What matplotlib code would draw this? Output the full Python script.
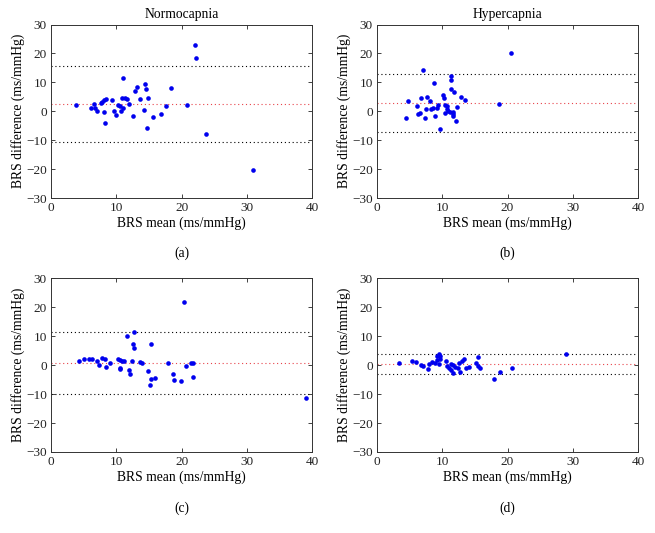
import numpy as np
import matplotlib
matplotlib.use('Agg')
import matplotlib.pyplot as plt

plt.rcParams['font.family'] = ['Liberation Serif', 'DejaVu Serif']

# (a) Normocapnia, first method pair
a_mean = [3.85, 6.15, 6.5, 6.8, 7.0, 7.6, 7.85, 8.1, 8.35, 8.1, 8.2, 9.3, 9.7, 9.9,
          10.3, 10.5, 10.7, 10.9, 11.0, 11.0, 11.4, 11.7, 11.9, 12.6, 12.9, 13.1,
          13.6, 14.2, 14.4, 14.6, 14.7, 14.9, 15.6, 16.8, 17.6, 18.4, 20.9, 22.0,
          22.2, 23.7, 31.0]
a_diff = [2.2, 1.0, 2.5, 1.0, 0.2, 2.9, 3.3, 3.9, 4.1, -0.1, -4.1, 4.0, 0.1, -1.4,
          2.2, 1.7, 0.2, 4.6, 11.5, 1.0, 4.6, 4.3, 2.4, -1.5, 6.9, 8.5,
          4.1, 0.5, 9.4, 7.7, -5.7, 4.6, -2.0, -1.1, 1.7, 7.9, 2.3, 23.0,
          18.5, -7.8, -20.3]
a_bias, a_loa = 2.6, 13.2

# (b) Hypercapnia, first method pair
b_mean = [4.5, 4.8, 6.1, 6.3, 6.6, 6.75, 7.0, 7.4, 7.5, 7.7, 8.1, 8.2, 8.6, 8.8,
          8.9, 9.2, 9.3, 9.7, 10.05, 10.25, 10.35, 10.45, 10.7, 10.7, 10.9, 11.2,
          11.3, 11.3, 11.4, 11.6, 11.7, 11.8, 11.7, 12.1, 12.3, 12.8, 13.5, 18.7,
          20.6]
b_diff = [-2.3, 3.4, 1.7, -1.1, -0.7, 4.6, 14.4, -2.4, 0.7, 5.1, 3.6, 0.9, 1.1, 9.8,
          -1.6, 1.3, 2.3, -6.2, 5.7, 4.7, -0.7, 2.2, 1.7, 0.9, 0.2, -0.1,
          7.7, 10.7, 12.1, -0.3, -1.1, 6.6, -1.6, -3.3, 1.5, 5.1, 3.8, 2.6,
          20.3]
b_bias, b_loa = 2.85, 10.05

# (c) Normocapnia, second method pair
c_mean = [4.25, 5.1, 5.8, 6.2, 7.1, 7.3, 7.8, 8.2, 8.4, 9.0, 10.2, 10.5, 10.55, 10.6,
          10.8, 11.1, 11.6, 12.0, 12.1, 12.4, 12.5, 12.7, 12.75, 13.7, 13.9, 14.8,
          15.1, 15.3, 15.3, 15.9, 17.9, 18.7, 18.9, 19.95, 20.4, 20.65, 21.5, 21.8,
          21.7, 39.1]
c_diff = [1.5, 2.2, 2.0, 2.0, 1.4, 0.2, 2.5, 2.0, -0.6, 0.9, 2.2, 1.7, -0.9, -1.4,
          1.6, 1.6, 10.2, -1.5, -3.0, 1.4, 7.3, 11.5, 5.9, 1.2, 0.9, -2.1,
          -6.7, 7.4, -4.7, -4.4, 0.9, -3.0, -5.1, -5.3, 21.9, -0.2, 0.8, 0.9,
          -4.2, -11.5]
c_bias, c_loa = 0.85, 10.65

# (d) Hypercapnia, second method pair
d_mean = [3.3, 5.3, 5.95, 6.7, 7.0, 7.85, 8.0, 8.35, 8.85, 9.25, 9.25, 9.45, 9.6, 9.5,
          9.6, 10.5, 10.8, 11.1, 11.35, 11.35, 11.65, 11.7, 12.0, 12.35, 12.6, 12.7,
          13.05, 13.4, 13.7, 14.1, 15.2, 15.5, 15.45, 15.8, 17.9, 18.9, 20.7, 29.0]
d_diff = [0.8, 1.6, 1.0, 0.0, -0.2, -1.2, 0.3, 1.0, 0.9, 1.7, 3.2, 3.8, 3.1, 0.3,
          2.1, 1.4, -0.1, -0.8, 0.6, -1.7, -2.8, 0.2, -0.5, -1.0, 0.7, -2.2,
          1.3, 2.2, -1.0, -0.6, 0.9, 2.8, -0.2, -0.9, -4.7, -2.4, -1.0, 3.8]
d_bias, d_loa = 0.3, 3.45

panels = [
    (a_mean, a_diff, a_bias, a_loa, '(a)', 'Normocapnia'),
    (b_mean, b_diff, b_bias, b_loa, '(b)', 'Hypercapnia'),
    (c_mean, c_diff, c_bias, c_loa, '(c)', None),
    (d_mean, d_diff, d_bias, d_loa, '(d)', None),
]

fig = plt.figure(figsize=(6.55, 5.33), dpi=100)
lefts = [0.078, 0.5756, 0.078, 0.5756]
bottoms = [0.6285, 0.6285, 0.152, 0.152]
w, h = 0.3985, 0.3255
label_y = [0.525, 0.525, 0.047, 0.047]

for i, (xm, yd, bias, loa, tag, title) in enumerate(panels):
    ax = fig.add_axes([lefts[i], bottoms[i], w, h])
    ax.axhline(bias + loa, color='black', ls=(0, (1, 2.5)), lw=0.8)
    ax.axhline(bias, color='#e8434a', ls=(0, (1, 2.5)), lw=0.8)
    ax.axhline(bias - loa, color='black', ls=(0, (1, 2.5)), lw=0.8)
    ax.scatter(xm, yd, s=11, color='#0000ee', zorder=3, linewidths=0)
    ax.set_xlim(0, 40)
    ax.set_ylim(-30, 30)
    ax.set_xticks(np.arange(0, 41, 10))
    ax.set_yticks(np.arange(-30, 31, 10))
    ax.tick_params(direction='in', top=True, right=True, length=3, width=0.6,
                   labelsize=9.5, colors='#222222', pad=3)
    for s in ax.spines.values():
        s.set_linewidth(0.7)
        s.set_color('#333333')
    ax.set_xlabel('BRS mean (ms/mmHg)', fontsize=9.8, labelpad=2)
    ax.set_ylabel('BRS difference (ms/mmHg)', fontsize=9.8, labelpad=1)
    if title:
        ax.set_title(title, fontsize=9.8, pad=5)
    fig.text(lefts[i] + w / 2, label_y[i], tag, ha='center', va='center', fontsize=9.8)

plt.savefig('out.png', dpi=100)
plt.close()
